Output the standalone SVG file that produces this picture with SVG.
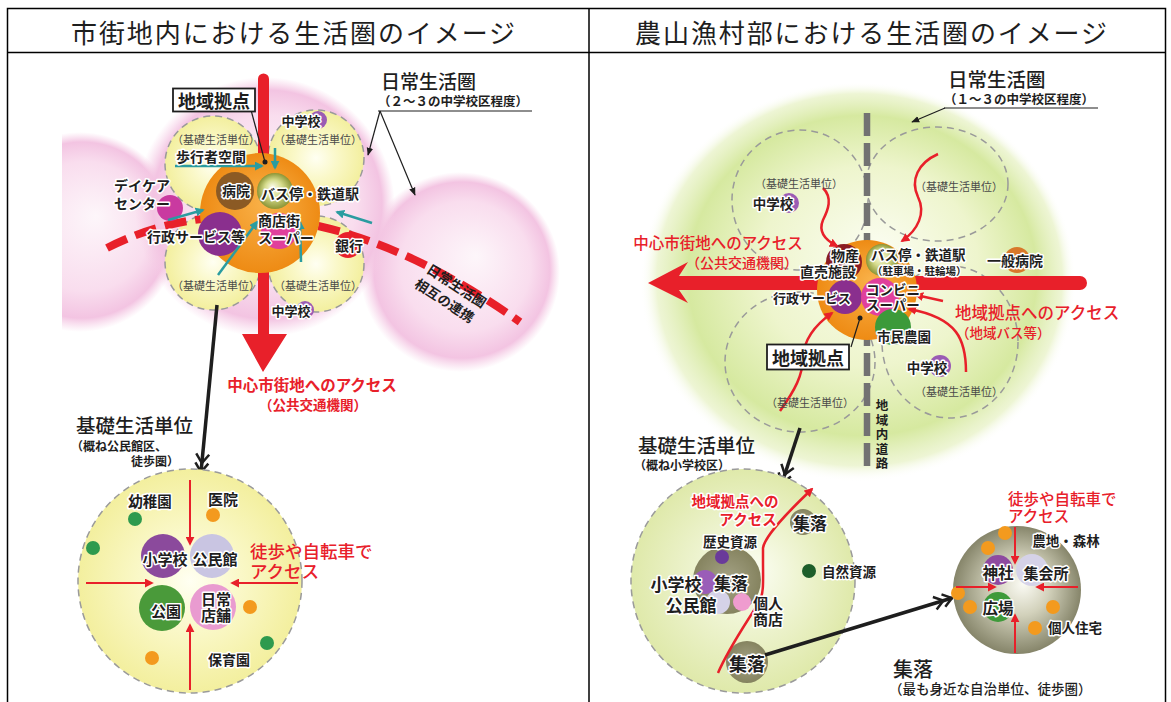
<svg xmlns="http://www.w3.org/2000/svg" width="1171" height="702" viewBox="0 0 1171 702">
<defs>
<style>
text{font-family:"Noto Sans CJK JP","Noto Sans",sans-serif;fill:#1e1e1e;dominant-baseline:central}
.b{font-weight:700}
.m{text-anchor:middle}
.h{stroke:#fff;stroke-width:3px;paint-order:stroke;stroke-linejoin:round}
.red{fill:#e8202a}
.gy{fill:#4a4a4a;font-size:11px}
.hd{font-size:26px;letter-spacing:1.9px;text-anchor:middle}
.tl{stroke:#2a9ca0;stroke-width:2.5;fill:none;marker-end:url(#mT)}
.ra{stroke:#e8202a;stroke-width:2.5;fill:none;marker-end:url(#mR)}
.ds{stroke:#9a9a9a;stroke-width:1.5;stroke-dasharray:7 5}
.nf{fill:none}
.od{fill:#f39a1e}
.gd{fill:#2e9a4e}
.ln{stroke:#1e1e1e;stroke-width:1.2;fill:none}
</style>
<marker id="mR" viewBox="0 0 10 10" refX="8" refY="5" markerWidth="9" markerHeight="9" markerUnits="userSpaceOnUse" orient="auto"><path d="M0,0 L10,5 L0,10 Z" fill="#e8202a"/></marker>
<marker id="mT" viewBox="0 0 10 10" refX="8" refY="5" markerWidth="9" markerHeight="9" markerUnits="userSpaceOnUse" orient="auto"><path d="M0,0 L10,5 L0,10 Z" fill="#2a9ca0"/></marker>
<marker id="mK" viewBox="0 0 10 10" refX="9" refY="5" markerWidth="8" markerHeight="8" markerUnits="userSpaceOnUse" orient="auto"><path d="M0,1 L10,5 L0,9 Z" fill="#1e1e1e"/></marker>
<marker id="mD" viewBox="0 0 22 16" refX="20" refY="8" markerWidth="22" markerHeight="16" markerUnits="userSpaceOnUse" orient="auto"><path d="M2,1.5 L11,8 L2,14.5 M11,1.5 L20,8 L11,14.5" fill="none" stroke="#1e1e1e" stroke-width="2.5"/></marker>
<radialGradient id="pinkG" cx="0.5" cy="0.5" r="0.5" fx="0.58" fy="0.42"><stop offset="0" stop-color="#fdf6fa"/><stop offset="0.65" stop-color="#f9ddee"/><stop offset="0.88" stop-color="#f3c4e2"/><stop offset="1" stop-color="#f6cfe6" stop-opacity="0"/></radialGradient>
<radialGradient id="yelG" cx="0.5" cy="0.5" r="0.5"><stop offset="0" stop-color="#fffff2"/><stop offset="0.45" stop-color="#faf8c8"/><stop offset="1" stop-color="#f3ef9e"/></radialGradient>
<radialGradient id="orG" cx="0.5" cy="0.5" r="0.5" fx="0.55" fy="0.4"><stop offset="0" stop-color="#f9b24a"/><stop offset="1" stop-color="#ee8b14"/></radialGradient>
<radialGradient id="busG" cx="0.5" cy="0.5" r="0.5" fx="0.42" fy="0.38"><stop offset="0" stop-color="#fbfbe8"/><stop offset="0.5" stop-color="#d5db8c"/><stop offset="1" stop-color="#8b9536"/></radialGradient>
<radialGradient id="grnG" cx="0.5" cy="0.5" r="0.5" fx="0.55" fy="0.42"><stop offset="0" stop-color="#fbfdf1"/><stop offset="0.5" stop-color="#eef5cd"/><stop offset="0.8" stop-color="#d6e9a0"/><stop offset="0.93" stop-color="#e6f1c2" stop-opacity="0.7"/><stop offset="1" stop-color="#ffffff" stop-opacity="0"/></radialGradient>
<radialGradient id="kisoG" cx="0.5" cy="0.5" r="0.5" fx="0.55" fy="0.45"><stop offset="0" stop-color="#fbfdf2"/><stop offset="1" stop-color="#dfe9aa"/></radialGradient>
<radialGradient id="shuG" cx="0.5" cy="0.5" r="0.5" fx="0.55" fy="0.45"><stop offset="0" stop-color="#fbfbf4"/><stop offset="0.45" stop-color="#d2d1bb"/><stop offset="1" stop-color="#86856a"/></radialGradient>
<radialGradient id="olG" cx="0.5" cy="0.5" r="0.5"><stop offset="0" stop-color="#a5a386"/><stop offset="1" stop-color="#85835f"/></radialGradient>
<clipPath id="clipL"><rect x="62" y="53" width="526" height="649"/></clipPath>
</defs>

<rect width="1171" height="702" fill="#fff"/>

<g id="table">
<rect x="7.5" y="8.5" width="1158" height="700" fill="none" stroke="#000" stroke-width="1.5"/>
<line x1="7.5" y1="52.5" x2="1165.5" y2="52.5" stroke="#000" stroke-width="1.5"/>
<line x1="589" y1="8.5" x2="589" y2="702" stroke="#000" stroke-width="1.5"/>
<text class="hd" x="294" y="31">市街地内における生活圏のイメージ</text>
<text class="hd" x="872" y="31">農山漁村部における生活圏のイメージ</text>
</g>

<!-- ============ LEFT PANEL ============ -->
<g id="L-background" clip-path="url(#clipL)">
<circle cx="80" cy="232" r="100" fill="url(#pinkG)"/>
<circle cx="460" cy="272" r="100" fill="url(#pinkG)"/>
<circle cx="265" cy="207" r="130" fill="url(#pinkG)"/>
</g>

<g id="L-kiso-units">
<circle cx="213" cy="164" r="48" fill="url(#yelG)" class="ds"/>
<circle cx="316" cy="158" r="48" fill="url(#yelG)" class="ds"/>
<circle cx="213" cy="262" r="48" fill="url(#yelG)" class="ds"/>
<circle cx="316" cy="264" r="48" fill="url(#yelG)" class="ds"/>
<text class="gy m" x="216" y="139">（基礎生活単位）</text>
<text class="gy m" x="318" y="139">（基礎生活単位）</text>
<text class="gy m" x="216" y="285">（基礎生活単位）</text>
<text class="gy m" x="318" y="285">（基礎生活単位）</text>
</g>

<g id="L-connectors">
<path d="M107,248 C200,200 340,195 520,322" fill="none" stroke="#e8202a" stroke-width="8" stroke-dasharray="22 9"/>
<path d="M258,79 A5.5,5.5 0 0 1 269,79 L269,334 L287,334 L263,372 L242,334 L258,334 Z" fill="#e8202a"/>
</g>

<g id="L-kyoten">
<circle cx="260" cy="213" r="60" fill="url(#orG)"/>
<circle cx="235" cy="191" r="19" fill="#8b5a24"/>
<circle cx="275" cy="191" r="18" fill="url(#busG)"/>
<circle cx="220" cy="234" r="22" fill="#8a2f8e"/>
<circle cx="279" cy="231" r="18" fill="#e0409c"/>
</g>

<g id="L-facilities">
<circle cx="318" cy="120" r="9" fill="#9a5cb4"/>
<circle cx="305" cy="310" r="9" fill="#9a5cb4"/>
<circle cx="170" cy="208" r="13" fill="#c93aa0"/>
<circle cx="348" cy="245" r="13" fill="#e8202a"/>
</g>

<g id="L-teal-arrows">
<line class="tl" x1="175" y1="166" x2="262" y2="166"/>
<line class="tl" x1="275" y1="148" x2="275" y2="168"/>
<line class="tl" x1="168" y1="220" x2="203" y2="210"/>
<line class="tl" x1="218" y1="275" x2="257" y2="222"/>
<line class="tl" x1="301" y1="262" x2="300" y2="222"/>
<line class="tl" x1="372" y1="223" x2="337" y2="212"/>
</g>

<g id="L-labels">
<text class="b h" x="301" y="120" style="font-size:13px" text-anchor="middle">中学校</text>
<text class="b h" x="291" y="310" style="font-size:13px" text-anchor="middle">中学校</text>
<text class="b h m" x="211" y="156" style="font-size:14px">歩行者空間</text>
<text class="b h m" x="142" y="185" style="font-size:14px">デイケア</text>
<text class="b h m" x="142" y="203" style="font-size:14px">センター</text>
<text class="b h m" x="236" y="190" style="font-size:14px">病院</text>
<text class="b h" x="261" y="193" style="font-size:14px">バス停・鉄道駅</text>
<text class="b h m" x="196" y="236" style="font-size:14px">行政サービス等</text>
<text class="b h" x="258" y="220" style="font-size:14px">商店街</text>
<text class="b h" x="258" y="237" style="font-size:14px">スーパー</text>
<text class="b h m" x="349" y="245" style="font-size:14px">銀行</text>
<g transform="translate(457,285) rotate(33)">
<text class="b m" x="0" y="0" style="font-size:13.5px">日常生活圏</text>
<text class="b m" x="-2" y="19" style="font-size:13.5px">相互の連携</text>
</g>
</g>

<g id="L-kyoten-label">
<line class="ln" x1="251" y1="110" x2="265" y2="162"/>
<circle cx="265" cy="162" r="2.5" fill="#1e1e1e"/>
<rect x="173" y="88.5" width="82" height="23" fill="#fff" stroke="#1e1e1e" stroke-width="1.8"/>
<text class="b m" x="214" y="100" style="font-size:18px">地域拠点</text>
</g>

<g id="L-nichijo-label">
<text x="381" y="80" style="font-size:19px;font-weight:500">日常生活圏</text>
<text class="b" x="378" y="100" style="font-size:12.5px">（２～３の中学校区程度）</text>
<line class="ln" x1="378" y1="111" x2="532" y2="111" stroke-width="1"/>
<line class="ln" x1="380" y1="111" x2="368" y2="155" stroke-width="1" marker-end="url(#mK)"/>
<line class="ln" x1="380" y1="111" x2="415" y2="195" stroke-width="1" marker-end="url(#mK)"/>
</g>

<g id="L-access-label">
<text class="b red m" x="312" y="384" style="font-size:15.5px">中心市街地へのアクセス</text>
<text class="b red m" x="313" y="404" style="font-size:13.5px">（公共交通機関）</text>
</g>

<g id="L-kiso-detail">
<text x="76" y="424" style="font-size:19.5px;font-weight:500">基礎生活単位</text>
<text class="b" x="71" y="445" style="font-size:12px">（概ね公民館区、</text>
<text class="b" x="131" y="460" style="font-size:12px">徒歩圏）</text>
<line x1="217" y1="305" x2="201" y2="472" stroke="#1e1e1e" stroke-width="3.5" marker-end="url(#mD)"/>
<circle cx="190" cy="581" r="112" fill="url(#yelG)" class="ds"/>
<circle cx="135" cy="519" r="7" class="gd"/>
<circle cx="93" cy="548" r="7" class="gd"/>
<circle cx="213" cy="515" r="7" class="od"/>
<circle cx="250" cy="607" r="7" class="od"/>
<circle cx="267" cy="643" r="7" class="gd"/>
<circle cx="152" cy="658" r="7" class="od"/>
<circle cx="163" cy="556" r="22" fill="#8b4a9c"/>
<circle cx="212" cy="556" r="22" fill="#c9c5e2"/>
<circle cx="162" cy="608" r="23" fill="#4a9a3a"/>
<circle cx="213" cy="607" r="23" fill="#e99bd0"/>
<line x1="190" y1="480" x2="190" y2="544" stroke="#e8202a" stroke-width="2" marker-end="url(#mR)"/>
<line x1="86" y1="583" x2="152" y2="583" stroke="#e8202a" stroke-width="2" marker-end="url(#mR)"/>
<line x1="298" y1="583" x2="232" y2="583" stroke="#e8202a" stroke-width="2" marker-end="url(#mR)"/>
<line x1="190" y1="690" x2="190" y2="625" stroke="#e8202a" stroke-width="2" marker-end="url(#mR)"/>
<text class="b h m" x="150" y="500" style="font-size:14.5px">幼稚園</text>
<text class="b h m" x="223" y="498" style="font-size:15px">医院</text>
<text class="b h m" x="165" y="558" style="font-size:15px">小学校</text>
<text class="b h m" x="215" y="558" style="font-size:15px">公民館</text>
<text class="b h m" x="166" y="610" style="font-size:15px">公園</text>
<text class="b h m" x="216" y="598" style="font-size:15px">日常</text>
<text class="b h m" x="216" y="614" style="font-size:15px">店舗</text>
<text class="b h m" x="229" y="659" style="font-size:14px">保育園</text>
<text class="red" x="250" y="550" style="font-size:17.5px;font-weight:500">徒歩や自転車で</text>
<text class="red" x="250" y="570" style="font-size:17.5px;font-weight:500">アクセス</text>
</g>

<!-- ============ RIGHT PANEL ============ -->
<g id="R-background">
<ellipse cx="858" cy="282" rx="218" ry="200" fill="url(#grnG)"/>
</g>

<g id="R-kiso-units">
<ellipse cx="800" cy="200" rx="68" ry="70" class="ds nf"/>
<ellipse cx="937" cy="184" rx="71" ry="57" class="ds nf"/>
<ellipse cx="800" cy="362" rx="75" ry="70" class="ds nf"/>
<ellipse cx="950" cy="342" rx="68" ry="76" class="ds nf"/>
</g>

<g id="R-road">
<line x1="867" y1="113" x2="867" y2="470" stroke="#727272" stroke-width="6.5" stroke-dasharray="23 7"/>
<text class="b m" style="font-size:12.5px"><tspan x="882" y="404">地</tspan><tspan x="882" y="418.5">域</tspan><tspan x="882" y="433">内</tspan><tspan x="882" y="447.5">道</tspan><tspan x="882" y="462">路</tspan></text>
</g>

<g id="R-connectors">
<path d="M1080,276 L679,276 L688,262 L648,283 L688,303 L679,290 L1080,290 A7,7 0 0 0 1080,276 Z" fill="#e8202a"/>
</g>

<g id="R-kyoten">
<circle cx="867" cy="290" r="50" fill="url(#orG)"/>
<circle cx="844" cy="262" r="18" fill="#8a1c22"/>
<circle cx="882" cy="260" r="16" fill="url(#busG)"/>
<circle cx="845" cy="297" r="17" fill="#8a2f8e"/>
<circle cx="880" cy="297" r="19" fill="#e0409c"/>
<circle cx="893" cy="327" r="18" fill="#3c9a3a"/>
</g>

<g id="R-facilities">
<circle cx="789" cy="203" r="10" fill="#9a5cb4"/>
<circle cx="940" cy="366" r="11" fill="#9a5cb4"/>
<circle cx="1017" cy="260" r="13" fill="#d8782a"/>
</g>

<g id="R-red-arrows">
<path class="ra" d="M823,188 C833,198 828,210 823,220 C818,232 825,240 837,246"/>
<path class="ra" d="M938,154 C918,163 910,180 918,197 C926,213 918,230 902,241"/>
<path class="ra" d="M943,301 L916,295"/>
<path class="ra" d="M966,372 C966,340 958,318 909,309"/>
<path class="ra" d="M780,411 C795,390 803,375 803,357 C804,340 815,325 832,313"/>
</g>

<g id="R-labels">
<text class="gy m" x="799" y="183">（基礎生活単位）</text>
<text class="gy m" x="959" y="186">（基礎生活単位）</text>
<text class="gy m" x="810" y="402">（基礎生活単位）</text>
<text class="gy m" x="959" y="391">（基礎生活単位）</text>
<text class="b h m" x="773" y="203" style="font-size:13.5px">中学校</text>
<text class="b h m" x="927" y="367" style="font-size:13.5px">中学校</text>
<text class="red m" x="718" y="242" style="font-size:15.5px;font-weight:500">中心市街地へのアクセス</text>
<text class="red m" x="742" y="262" style="font-size:14px;font-weight:500">（公共交通機関）</text>
<text class="b h m" x="845" y="255" style="font-size:14px">物産</text>
<text class="b h m" x="828" y="271" style="font-size:14px">直売施設</text>
<text class="b h" x="871" y="254" style="font-size:13.5px">バス停・鉄道駅</text>
<text class="b h" x="872" y="270" style="font-size:10.5px">（駐車場・駐輪場）</text>
<text class="b h m" x="1015" y="260" style="font-size:14px">一般病院</text>
<text class="b h m" x="812" y="297" style="font-size:13px">行政サービス</text>
<text class="b h" x="866" y="289" style="font-size:13.5px">コンビニ</text>
<text class="b h" x="866" y="304" style="font-size:13.5px">スーパー</text>
<text class="b h m" x="904" y="336" style="font-size:13.5px">市民農園</text>
<text class="red" x="955" y="312" style="font-size:16.5px;font-weight:500">地域拠点へのアクセス</text>
<text class="red" x="956" y="332" style="font-size:13.5px;font-weight:500">（地域バス等）</text>
</g>

<g id="R-kyoten-label">
<line class="ln" x1="851" y1="347" x2="860" y2="318"/>
<circle cx="860" cy="318" r="2.5" fill="#1e1e1e"/>
<rect x="767" y="344.5" width="82" height="25" fill="#fff" stroke="#1e1e1e" stroke-width="1.8"/>
<text class="b m" x="808" y="357" style="font-size:18px">地域拠点</text>
</g>

<g id="R-nichijo-label">
<text x="948" y="78" style="font-size:19.5px;font-weight:500">日常生活圏</text>
<text class="b" x="944" y="98" style="font-size:12.5px">（１～３の中学校区程度）</text>
<line class="ln" x1="944" y1="108" x2="1098" y2="108" stroke-width="1"/>
<line class="ln" x1="945" y1="108" x2="912" y2="122" stroke-width="1" marker-end="url(#mK)"/>
</g>

<g id="R-kiso-detail">
<text x="638" y="444" style="font-size:19.5px;font-weight:500">基礎生活単位</text>
<text class="b" x="634" y="464" style="font-size:12px">（概ね小学校区）</text>
<line x1="800" y1="428" x2="782" y2="483" stroke="#1e1e1e" stroke-width="3.5" marker-end="url(#mD)"/>
<circle cx="743" cy="581" r="112" fill="url(#kisoG)" class="ds"/>
<circle cx="727" cy="580" r="34" fill="url(#olG)"/>
<circle cx="722" cy="557" r="7" fill="#6a3a9a"/>
<circle cx="705" cy="582" r="12" fill="#9a5db8"/>
<circle cx="718" cy="602" r="12" fill="#d5d2e8"/>
<circle cx="742" cy="602" r="9" fill="#ef9ccf"/>
<circle cx="803" cy="522" r="13" fill="url(#olG)"/>
<circle cx="809" cy="571" r="7" fill="#1d5e2a"/>
<circle cx="747" cy="662" r="21" fill="url(#olG)"/>
<path class="ra" d="M718,673 C730,645 752,615 760,600 C764,592 763,580 763,560 L763,548 C765,535 790,510 812,489"/>
<text class="b red h m" x="735" y="500" style="font-size:14.5px">地域拠点への</text>
<text class="b red h m" x="748" y="518" style="font-size:14.5px">アクセス</text>
<text class="b h m" x="730" y="541" style="font-size:13.5px">歴史資源</text>
<text class="b h m" x="676" y="583" style="font-size:17px">小学校</text>
<text class="b h m" x="731" y="582" style="font-size:17px">集落</text>
<text class="b h m" x="691" y="604" style="font-size:17px">公民館</text>
<text class="b h m" x="768" y="602" style="font-size:15px">個人</text>
<text class="b h m" x="768" y="618" style="font-size:15px">商店</text>
<text class="b h m" x="810" y="522" style="font-size:17px">集落</text>
<text class="b h m" x="849" y="571" style="font-size:13.5px">自然資源</text>
<text class="b h m" x="747" y="663" style="font-size:18px">集落</text>
<line x1="765" y1="655" x2="952" y2="598" stroke="#1e1e1e" stroke-width="3.5" marker-end="url(#mD)"/>
</g>

<g id="R-shuraku-detail">
<circle cx="1017" cy="590" r="64" fill="url(#shuG)"/>
<circle cx="1005" cy="533" r="7" class="od"/>
<circle cx="988" cy="548" r="7" class="od"/>
<circle cx="958" cy="593" r="7" class="od"/>
<circle cx="970" cy="607" r="7" class="od"/>
<circle cx="1053" cy="607" r="7" class="od"/>
<circle cx="1035" cy="628" r="7" class="od"/>
<circle cx="998" cy="570" r="15" fill="#8e4aa0"/>
<circle cx="1032" cy="570" r="16" fill="#d5d2e8"/>
<circle cx="998" cy="607" r="15" fill="#3e9a3a"/>
<line x1="1015" y1="527" x2="1015" y2="563" stroke="#e8202a" stroke-width="2" marker-end="url(#mR)"/>
<line x1="956" y1="587" x2="995" y2="587" stroke="#e8202a" stroke-width="2" marker-end="url(#mR)"/>
<line x1="1078" y1="587" x2="1037" y2="587" stroke="#e8202a" stroke-width="2" marker-end="url(#mR)"/>
<line x1="1015" y1="653" x2="1015" y2="615" stroke="#e8202a" stroke-width="2" marker-end="url(#mR)"/>
<text class="b h m" x="998" y="572" style="font-size:15.5px">神社</text>
<text class="b h m" x="1046" y="572" style="font-size:15px">集会所</text>
<text class="b h m" x="998" y="607" style="font-size:15.5px">広場</text>
<text class="b h m" x="1066" y="540" style="font-size:13.5px">農地・森林</text>
<text class="b h m" x="1075" y="627" style="font-size:13.5px">個人住宅</text>
<text class="red" x="1008" y="498" style="font-size:15.5px;font-weight:500">徒歩や自転車で</text>
<text class="red" x="1008" y="515" style="font-size:15.5px;font-weight:500">アクセス</text>
<text x="893" y="668" style="font-size:20px;font-weight:500">集落</text>
<text x="889" y="688" style="font-size:13.5px;font-weight:500">（最も身近な自治単位、徒歩圏）</text>
</g>
</svg>
